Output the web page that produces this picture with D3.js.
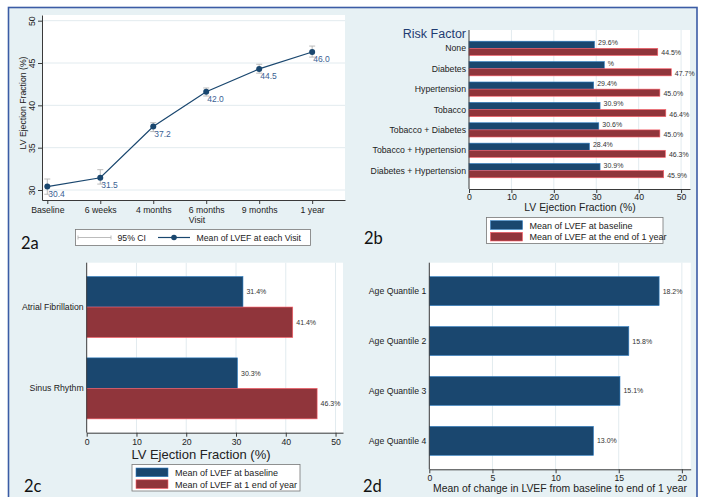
<!DOCTYPE html>
<html lang="en">
<head>
<meta charset="utf-8">
<title>LVEF panels</title>
<script src="https://d3js.org/d3.v7.min.js"></script>
<style>
  body{margin:0;background:#fff;}
  text{font-family:"Liberation Sans",Arial,sans-serif;}
</style>
</head>
<body>
<div id="chart"></div>
<script>
// ---- data ----
var visits = ["Baseline","6 weeks","4 months","6 months","9 months","1 year"]
var visitMeans = [30.4, 31.45, 37.5, 41.6, 44.3, 46.3]
var visitMeanLabels = ["30.4","31.5","37.2","42.0","44.5","46.0"]
var ciLow = [29.5, 30.7, 36.9, 41.1, 43.8, 45.7]
var ciHigh = [31.3, 32.4, 37.95, 42.05, 44.85, 47.0]
var yTicks2a = [30,35,40,45,50]

var riskFactors = ["None","Diabetes","Hypertension","Tobacco","Tobacco + Diabetes","Tobacco + Hypertension","Diabetes + Hypertension"]
var riskBaseline = [29.6, 31.9, 29.4, 30.9, 30.6, 28.4, 30.9]
var riskBaselineLabels = ["29.6%","%","29.4%","30.9%","30.6%","28.4%","30.9%"]
var riskYear = [44.5, 47.7, 45.0, 46.4, 45.0, 46.3, 45.9]
var ticks2b = [0,10,20,30,40,50]

var rhythms = ["Atrial Fibrillation","Sinus Rhythm"]
var rhythmBaseline = [31.4, 30.3]
var rhythmYear = [41.4, 46.3]
var ticks2c = [0,10,20,30,40,50]

var ageGroups = ["Age Quantile 1","Age Quantile 2","Age Quantile 3","Age Quantile 4"]
var ageChange = [18.2, 15.8, 15.1, 13.0]
var ticks2d = [0,5,10,15,20]

// ---- style ----
var BG = "#e7f1f4"
var NAVY = "#1a476f"
var MAROON = "#90353b"
var GRID = "#e2ebef"
var AXIS = "#3a3a3a"
var FS = 8.7
var pct = function(v){ return d3.format(".1f")(v) + "%" }

var svg = d3.select("#chart").append("svg")
    .attr("width",704).attr("height",497)

svg.append("rect").attr("width",704).attr("height",497).attr("fill","#fff")
svg.append("rect")
    .attr("x",8.5).attr("y",7.5).attr("width",688.5).attr("height",500)
    .attr("fill",BG).attr("stroke","#3b5ca5").attr("stroke-width",1.6)

function styleAxis(g){
    g.select(".domain").attr("stroke",AXIS)
    g.selectAll(".tick line").attr("stroke",AXIS)
    g.selectAll(".tick text").attr("fill","#222").style("font-size",FS+"px")
        .style("font-family","'Liberation Sans',Arial,sans-serif")
}

function panelLabel(txt,x,y){
    svg.append("text").attr("x",x).attr("y",y).text(txt)
        .style("font-family","Lato,'Open Sans',sans-serif").style("font-size","16.5px").attr("fill","#111")
}

// ---------------- 2a : line with CI ----------------
var x2a = d3.scaleLinear().domain([-0.1,5.62]).range([42,345])
var y2a = d3.scaleLinear().domain([28.82,50.67]).range([200,15])

svg.append("rect").attr("x",42).attr("y",15).attr("width",303).attr("height",185).attr("fill","#fff")
svg.selectAll(".grid2a").data(yTicks2a).join("line")
    .attr("x1",42).attr("x2",345).attr("y1",function(d){return y2a(d)}).attr("y2",function(d){return y2a(d)})
    .attr("stroke",GRID)

var yAx = svg.append("g").attr("transform","translate(42,0)")
    .call(d3.axisLeft(y2a).tickValues(yTicks2a).tickSize(4).tickSizeOuter(0))
styleAxis(yAx)
yAx.selectAll(".tick text").attr("transform","rotate(-90)").attr("x",0).attr("y",-7).attr("dy",0)
    .attr("text-anchor","middle")

var xAx = svg.append("g").attr("transform","translate(0,200)")
    .call(d3.axisBottom(x2a).tickValues(d3.range(visits.length)).tickFormat(function(i){return visits[i]})
        .tickSize(4).tickSizeOuter(0).tickPadding(3))
styleAxis(xAx)

svg.append("text").attr("transform","translate(26,103) rotate(-90)").attr("text-anchor","middle")
    .style("font-size",FS+"px").attr("fill","#222").text("LV Ejection Fraction (%)")
svg.append("text").attr("x",197).attr("y",222.5).attr("text-anchor","middle")
    .style("font-size",FS+"px").attr("fill","#222").text("Visit")

// CI caps
var ci = svg.append("g").attr("stroke","#b4b4b4").attr("stroke-width",0.9)
visits.forEach(function(v,i){
    ci.append("line").attr("x1",x2a(i)).attr("x2",x2a(i)).attr("y1",y2a(ciLow[i])).attr("y2",y2a(ciHigh[i]))
    ci.append("line").attr("x1",x2a(i)-3).attr("x2",x2a(i)+3).attr("y1",y2a(ciLow[i])).attr("y2",y2a(ciLow[i]))
    ci.append("line").attr("x1",x2a(i)-3).attr("x2",x2a(i)+3).attr("y1",y2a(ciHigh[i])).attr("y2",y2a(ciHigh[i]))
})

var line = d3.line().x(function(d,i){return x2a(i)}).y(function(d){return y2a(d)})
svg.append("path").datum(visitMeans).attr("d",line).attr("fill","none").attr("stroke",NAVY).attr("stroke-width",1.2)
svg.selectAll(".pt").data(visitMeans).join("circle")
    .attr("cx",function(d,i){return x2a(i)}).attr("cy",function(d){return y2a(d)}).attr("r",3).attr("fill",NAVY)
svg.selectAll(".ptlab").data(visitMeans).join("text")
    .attr("x",function(d,i){return x2a(i)+1}).attr("y",function(d){return y2a(d)+10})
    .text(function(d,i){return visitMeanLabels[i]})
    .style("font-size","8.5px").attr("fill","#3a6193")

// legend 2a
svg.append("rect").attr("x",75.5).attr("y",229.5).attr("width",235).attr("height",16)
    .attr("fill","#fff").attr("stroke","#777").attr("stroke-width",0.8)
svg.append("line").attr("x1",78).attr("x2",111).attr("y1",237.5).attr("y2",237.5).attr("stroke","#b4b4b4").attr("stroke-width",0.9)
svg.append("line").attr("x1",111).attr("x2",111).attr("y1",235.5).attr("y2",239.5).attr("stroke","#b4b4b4").attr("stroke-width",0.9)
svg.append("line").attr("x1",78).attr("x2",78).attr("y1",235.5).attr("y2",239.5).attr("stroke","#b4b4b4").attr("stroke-width",0.9)
svg.append("text").attr("x",117.5).attr("y",240.5).style("font-size",FS+"px").attr("fill","#222").text("95% CI")
svg.append("line").attr("x1",158).attr("x2",190).attr("y1",237.5).attr("y2",237.5).attr("stroke",NAVY).attr("stroke-width",1.2)
svg.append("circle").attr("cx",174).attr("cy",237.5).attr("r",2.8).attr("fill",NAVY)
svg.append("text").attr("x",196.5).attr("y",240.5).style("font-size",FS+"px").attr("fill","#222").text("Mean of LVEF at each Visit")
panelLabel("2a",21,249)

// ---------------- horizontal bar panels ----------------
function hbar(p){
    var g = svg.append("g")
    g.append("rect").attr("x",p.left).attr("y",p.top).attr("width",p.right-p.left).attr("height",p.bottom-p.top).attr("fill","#fff")
    var x = d3.scaleLinear().domain([0,p.max]).range([p.left,p.right])
    var y = d3.scaleBand().domain(p.cats).range([p.top,p.bottom]).paddingInner(p.pi).paddingOuter(p.po)
    var sub = d3.scaleBand().domain(d3.range(p.series.length)).range([0,y.bandwidth()])

    g.selectAll(null).data(p.ticks.slice(1)).join("line")
        .attr("x1",function(d){return x(d)}).attr("x2",function(d){return x(d)})
        .attr("y1",p.top).attr("y2",p.bottom).attr("stroke",GRID)

    p.series.forEach(function(s,k){
        g.selectAll(null).data(p.cats).join("rect")
            .attr("x",x(0)).attr("y",function(d){return y(d)+sub(k)})
            .attr("width",function(d,i){return x(s.values[i])-x(0)})
            .attr("height",sub.bandwidth())
            .attr("fill",s.color).attr("stroke",d3.color(s.color).brighter(1.6)).attr("stroke-width",0.6)
        g.selectAll(null).data(p.cats).join("text")
            .attr("x",function(d,i){return x(s.values[i])+3.5})
            .attr("y",function(d){return y(d)+sub(k)+sub.bandwidth()/2+s.dy})
            .text(function(d,i){return s.labels[i]})
            .style("font-size","7px").attr("fill","#333")
    })

    g.selectAll(null).data(p.cats).join("text")
        .attr("x",p.left-3).attr("y",function(d){return y(d)+y.bandwidth()/2+3})
        .attr("text-anchor","end").text(function(d){return d})
        .style("font-size",FS+"px").attr("fill","#222")

    g.append("line").attr("x1",p.left).attr("x2",p.left).attr("y1",p.top).attr("y2",p.bottom).attr("stroke",AXIS)
    var ax = g.append("g").attr("transform","translate(0,"+p.bottom+")")
        .call(d3.axisBottom(x).tickValues(p.ticks).tickSize(4).tickSizeOuter(0).tickPadding(p.tpad))
    styleAxis(ax)
    g.append("text").attr("x",p.titleX).attr("y",p.titleY).attr("text-anchor","middle")
        .style("font-size",p.titleSize+"px").attr("fill","#222").text(p.title)
}

function legend(x,y,w,h,items,rowY){
    svg.append("rect").attr("x",x).attr("y",y).attr("width",w).attr("height",h)
        .attr("fill","#fff").attr("stroke","#777").attr("stroke-width",0.8)
    items.forEach(function(it,i){
        svg.append("rect").attr("x",x+4).attr("y",rowY[i]).attr("width",32).attr("height",8.7)
            .attr("fill",it.color).attr("stroke",d3.color(it.color).brighter(1.6)).attr("stroke-width",0.6)
        svg.append("text").attr("x",x+43).attr("y",rowY[i]+7.8).style("font-size","9px").attr("fill","#222").text(it.text)
    })
}

// 2b
hbar({
    cats:riskFactors, left:469, right:690, top:30, bottom:189, max:52.1, pi:0.3, po:0.55,
    ticks:ticks2b, tpad:1,
    series:[{values:riskBaseline, labels:riskBaselineLabels, color:NAVY, dy:0.5},
            {values:riskYear, labels:riskYear.map(pct), color:MAROON, dy:3.5}],
    title:"LV Ejection Fraction (%)", titleX:580, titleY:211, titleSize:10.4
})
svg.append("text").attr("x",466).attr("y",37.5).attr("text-anchor","end")
    .style("font-size","12.5px").attr("fill","#1f3c72").text("Risk Factor")
legend(486.5,217.5,176.5,26,[{color:NAVY,text:"Mean of LVEF at baseline"},{color:MAROON,text:"Mean of LVEF at the end of 1 year"}],[220.7,232.3])
panelLabel("2b",364,244)

// 2c
hbar({
    cats:rhythms, left:86.7, right:343, top:262.7, bottom:432.7, max:51.5, pi:0.25, po:0.17,
    ticks:ticks2c, tpad:2,
    series:[{values:rhythmBaseline, labels:rhythmBaseline.map(pct), color:NAVY, dy:2.5},
            {values:rhythmYear, labels:rhythmYear.map(pct), color:MAROON, dy:2.5}],
    title:"LV Ejection Fraction (%)", titleX:201, titleY:459, titleSize:13
})
legend(132,464.5,168,26.5,[{color:NAVY,text:"Mean of LVEF at baseline"},{color:MAROON,text:"Mean of LVEF at 1 end of year"}],[468,479.8])
panelLabel("2c",24,492)

// 2d
hbar({
    cats:ageGroups, left:429.3, right:690.7, top:262.7, bottom:469.3, max:20.7, pi:0.42, po:0.28,
    ticks:ticks2d, tpad:2,
    series:[{values:ageChange, labels:ageChange.map(pct), color:NAVY, dy:2.5}],
    title:"Mean of change in LVEF from baseline to end of 1 year", titleX:560, titleY:492, titleSize:10.4
})
panelLabel("2d",363,492)
</script>
</body>
</html>
